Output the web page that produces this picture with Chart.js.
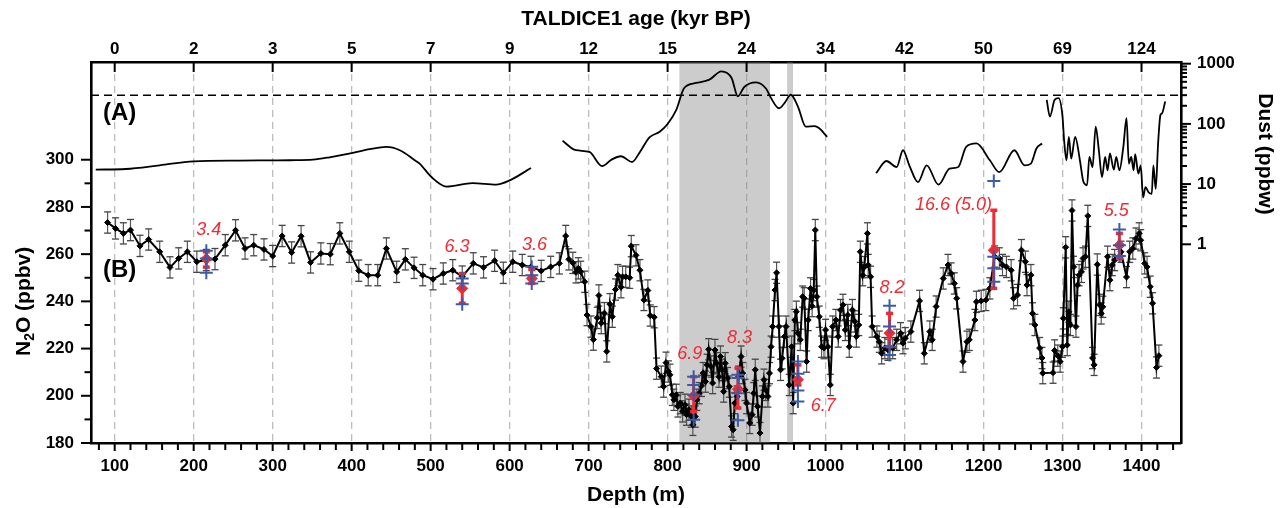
<!DOCTYPE html>
<html><head><meta charset="utf-8">
<script src="https://cdn.jsdelivr.net/npm/chart.js@4.4.1/dist/chart.umd.min.js"></script>
<style>html,body{margin:0;padding:0;background:#fff;}#wrap{width:1283px;height:508px;}</style>
</head><body><div id="wrap"><canvas id="c" width="1283" height="508"></canvas></div>
<script>
// ---------- DATA ----------
const n2oDepth = [
  91,101,111,120,132,143,157,170,181,192,
  204,216,227,240,253,265,276,289,300,312,
  324,336,348,361,373,385,397,409,421,433,
  444,457,468,479,490,503,516,528,540,554,
  567,581,592,604,616,627,640,652,663,671,
  675,680,684,687,690,695,698,703,706,711,
  713,716,720,723,727,730,734,737,741,743,
  747,752,754,760,765,770,775,778,783,786,
  792,795,798,801,803,806,808,811,813,816,
  819,822,824,827,830,832,835,837,840,843,
  845,848,850,852,855,857,860,862,865,867,
  869,871,873,876,878,881,883,885,888,890,
  893,895,898,900,904,907,909,911,914,917,
  920,922,924,927,929,931,933,936,938,941,
  943,945,948,950,954,957,959,961,963,965,
  968,971,973,976,978,981,983,985,987,989,
  992,995,998,1000,1003,1006,1009,1013,1016,1019,
  1022,1025,1028,1030,1034,1037,1039,1042,1044,1047,
  1049,1053,1054,1057,1059,1065,1068,1071,1075,1079,
  1085,1090,1095,1098,1101,1108,1119,1125,1132,1135,
  1140,1149,1155,1159,1163,1166,1174,1179,1182,1189,
  1191,1197,1203,1208,1214,1220,1224,1229,1235,1238,
  1243,1248,1253,1255,1260,1262,1265,1271,1274,1275,
  1288,1290,1294,1297,1300,1301,1304,1306,1308,1310,
  1312,1314,1317,1319,1321,1324,1326,1329,1332,1338,
  1340,1344,1347,1349,1351,1357,1360,1363,1366,1374,
  1381,1385,1389,1393,1397,1399,1404,1407,1411,1414,
  1419,1422
];
const n2oValue = [
  273.4,270.9,268.8,270.2,263.5,266.2,261.0,254.4,258.2,261.0,
  256.8,257.5,257.9,263.8,270.1,262.4,263.8,262.0,259.2,267.7,
  260.7,267.6,256.5,260.3,260.0,268.8,261.0,253.0,251.1,251.1,
  262.4,252.5,257.8,254.2,251.1,249.4,251.8,253.2,250.5,256.1,
  254.4,257.2,252.1,256.8,255.4,254.6,252.9,254.6,256.1,267.7,
  257.8,256.3,252.3,254.0,252.5,248.3,234.2,229.3,223.8,233.0,
  242.5,230.8,235.0,218.8,238.8,233.5,245.0,251.1,246.0,250.4,
  250.4,250.0,263.4,259.5,253.2,240.6,244.6,234.0,233.3,211.5,
  208.1,203.9,214.0,210.3,208.9,200.4,198.3,200.4,195.5,196.9,
  193.4,196.2,192.0,194.1,191.2,187.7,191.2,198.3,201.1,204.2,
  209.6,206.0,213.1,219.7,212.4,205.4,219.4,213.8,208.1,216.6,
  211.0,201.8,213.8,207.5,203.9,187.0,185.6,196.9,199.7,208.1,
  216.6,209.6,202.5,196.9,188.5,192.0,201.1,211.0,195.5,184.2,
  199.7,206.8,202.5,199.7,209.6,220.8,229.3,244.8,252.1,229.3,
  211.0,215.9,225.1,229.3,204.6,220.8,196.9,232.1,235.6,226.5,
  223.7,242.0,241.3,214.5,232.1,245.5,238.0,244.8,270.2,242.0,
  233.5,220.8,220.2,227.9,220.8,204.6,229.3,232.1,225.1,236.3,
  238.5,227.9,234.2,220.8,236.3,231.5,225.1,230.0,261.0,251.1,
  254.5,268.8,255.4,250.4,229.3,225.1,222.9,218.0,220.2,219.5,
  220.2,223.7,226.5,222.3,224.4,227.2,240.2,218.0,227.2,223.7,
  237.8,249.7,255.4,251.8,247.6,241.3,214.5,222.9,223.7,232.1,
  239.8,240.2,240.6,245.5,259.0,258.2,255.4,254.6,253.2,241.3,
  242.7,261.7,256.8,246.9,251.1,234.9,230.0,220.2,216.0,209.6,
  209.8,219.2,217.0,214.5,220.8,232.8,262.9,221.5,235.6,230.0,
  278.5,254.6,229.3,246.9,251.1,252.5,258.2,258.9,276.2,216.0,
  213.1,255.6,238.5,234.9,237.7,258.9,249.0,255.4,257.5,261.0,
  250.3,261.0,262.4,266.6,268.8,265.9,256.1,254.6,246.2,239.2,
  212.0,217.0
];
const n2oError = 4.5;

const dustDepth = [
  76,114,157,200,258,322,351,372,400,423,444,461,480,486,501,520,553,583,600,627,
  645,
  667,684,701,717,729,741,755,765,777,790,800,811,821,836,853,868,881,889,897,912,925,931,941,948,956,965,975,986,992,1002,
  1030,
  1064,1077,1090,1098,1106,1117,1128,1143,1157,1168,1178,1191,1208,1220,1239,1252,1260,1267,1274,
  1277,
  1280,1284,1290,1295,1300,1302,1305,1308,1311,1316,1322,1326,1328,1331,1334,1338,1342,1346,1350,1354,
  1357,1360,1365,1368,1372,1377,1381,1384,1387,1390,1392,1396,1399,1402,1405,1409,1413,1415,1418,1421,
  1424,1426,1430
];
const dustValue = [
  17.4,17.8,20.5,23.9,24.6,24.9,25.5,27.9,32.6,38,41.5,36.5,24.9,21.9,13.1,9.1,10.4,9.8,11.5,18.5,
  null,
  52.3,36.5,34.2,19.9,25.5,29,23.3,34.2,59.7,74,99.6,171,395,478,543,748,580,286,410,490,380,268,182,221,305,194,90,92,84.4,61,
  null,
  15.2,24.2,19.2,36.5,20.5,10.8,20.5,9.8,18,19.2,41.5,47.3,24.9,15.8,36.5,20.5,21.9,39,47.3,
  null,
  251,132,251,268,132,53.8,24.9,61,26.5,61,24.9,11.5,10.1,9.5,28.2,19.2,90,36.5,13.1,28.2,
  16.9,32.2,17.4,28.2,16.9,41.5,124,21.9,28.2,16.9,31.3,14.9,20.5,6,8.9,7.3,6.9,20.5,8.3,47.3,
  141,150,235
];
const dustThreshold = 300;

// comparison measurements (red: mean with range; blue: individual)
const cmpDepth = [216, 540, 628, 833, 889, 965, 1081, 1213, 1372];
const cmpMean  = [258.0, 245.5, 249.7, 200.0, 202.8, 206.8, 226.5, 261.7, 263.8];
const cmpLow   = [254.5, 239.2, 247.6, 193.4, 194.8, 204.6, 220.8, 245.5, 258.2];
const cmpHigh  = [261.0, 251.8, 253.5, 208.1, 211.7, 213.1, 234.9, 278.6, 268.8];
const cmpBlue  = [
  [261.4, 258.2, 252.1],
  [249.7, 247.6, 238.8],
  [254.7, 251.1, 247.6],
  [208.1, 204.6, 200.4, 189.9],
  [208.9, 207.5, 201.1, 189.6],
  [214.5, 209.3, 202.2, 197.6],
  [238.1, 229.3, 220.8, 217.3],
  [291.0, 258.9, 254.0, 248.3],
  [270.4, 263.8, 259.2]
];
const cmpLabel = ['3.4', '6.3', '3.6', '6.9', '8.3', '6.7', '8.2', '16.6 (5.0)', '5.5'];
const cmpLabelAt = [[219, 270.2], [533.5, 263.0], [631.6, 264.0], [828, 217.7], [891, 224.4], [997, 195.5], [1084, 245.7], [1162, 280.9], [1368, 278.2]];

const shadedRanges = [[814.7, 929.9], [951.3, 958.9]];

// ticks
const depthMajor = [100,200,300,400,500,600,700,800,900,1000,1100,1200,1300,1400];
const ageLabels = ['0','2','3','5','7','9','12','15','24','34','42','50','69','124'];
const depthMinor = [];
for (let d = 80; d <= 1440; d += 20) if (d % 100 !== 0) depthMinor.push(d);
const n2oMajor = [180, 200, 220, 240, 260, 280, 300];
const n2oMinor = [190, 210, 230, 250, 270, 290];
const dustMajor = [1, 10, 100, 1000];
const dustMinor = [2,3,4,5,6,7,8,9,20,30,40,50,60,70,80,90,200,300,400,500,600,700,800,900];

// ---------- CHART ----------
const FONT = "'Liberation Sans', Arial, Helvetica, sans-serif";
Chart.defaults.font.family = FONT;
Chart.defaults.color = '#000';
const RED = '#ee2b33';
const BLUE = '#3a5ca8';

const xMin = 70, xMax = 1450, n2oMin = 180, n2oMax = 341.4, dustMin = 5e-4, dustMax = 1067;

const n2oPts = n2oDepth.map((d, i) => ({x: d, y: n2oValue[i]}));
const errPts = n2oDepth.flatMap((d, i) => [{x: d, y: n2oValue[i] - n2oError}, {x: d, y: n2oValue[i] + n2oError}, {x: d, y: null}]);
const dustPts = dustDepth.map((d, i) => ({x: d, y: dustValue[i]}));
const redBarPts = cmpDepth.flatMap((d, i) => [{x: d, y: cmpLow[i]}, {x: d, y: cmpHigh[i]}, {x: d, y: null}]);
const redPts = cmpDepth.map((d, i) => ({x: d, y: cmpMean[i]}));
const bluePts = cmpDepth.flatMap((d, i) => cmpBlue[i].map(v => ({x: d, y: v})));

const shadeSets = shadedRanges.map(r => ({
  data: [{x: r[0], y: n2oMax}, {x: r[1], y: n2oMax}], yAxisID: 'y', fill: 'start',
  backgroundColor: 'rgba(128,128,128,0.4)', borderColor: 'transparent', borderWidth: 0, pointRadius: 0, order: 100
}));

const tickFont = {family: FONT, size: 17, weight: 'bold'};

const decor = {
  id: 'decor',
  afterDraw(chart) {
    const {ctx, chartArea: a, scales: s} = chart;
    ctx.save();
    ctx.strokeStyle = '#000';
    ctx.lineWidth = 2;
    const seg = (x1, y1, x2, y2) => { ctx.beginPath(); ctx.moveTo(x1, y1); ctx.lineTo(x2, y2); ctx.stroke(); };
    depthMajor.forEach(v => { const p = s.x.getPixelForValue(v); seg(p, a.bottom, p, a.bottom + 8); seg(p, a.top, p, a.top + 10); });
    depthMinor.forEach(v => { const p = s.x.getPixelForValue(v); seg(p, a.bottom, p, a.bottom + 7); });
    n2oMajor.forEach(v => { const p = s.y.getPixelForValue(v); seg(a.left - 10, p, a.left, p); });
    n2oMinor.forEach(v => { const p = s.y.getPixelForValue(v); seg(a.left - 6.5, p, a.left, p); });
    dustMajor.forEach(v => { const p = s.y2.getPixelForValue(v); seg(a.right, p, a.right + 10, p); });
    dustMinor.forEach(v => { const p = s.y2.getPixelForValue(v); seg(a.right, p, a.right + 6, p); });

    // panel labels
    ctx.fillStyle = '#000';
    ctx.font = 'bold 24px ' + FONT;
    ctx.textAlign = 'left'; ctx.textBaseline = 'middle';
    ctx.fillText('(A)', a.left + 12, 113);
    ctx.fillText('(B)', a.left + 12, 270);

    // N2O title with subscript
    const yc = (s.y.getPixelForValue(180) + s.y.getPixelForValue(300)) / 2;
    ctx.save();
    ctx.translate(22, yc);
    ctx.rotate(-Math.PI / 2);
    const big = 'bold 21px ' + FONT, small = 'bold 14px ' + FONT;
    ctx.font = big; const wN = ctx.measureText('N').width; const wRest = ctx.measureText('O (ppbv)').width;
    ctx.font = small; const w2 = ctx.measureText('2').width;
    let x0 = -(wN + w2 + wRest) / 2;
    ctx.textAlign = 'left'; ctx.textBaseline = 'alphabetic';
    ctx.font = big; ctx.fillText('N', x0, 7.5); x0 += wN;
    ctx.font = small; ctx.fillText('2', x0, 12); x0 += w2;
    ctx.font = big; ctx.fillText('O (ppbv)', x0, 7.5);
    ctx.restore();

    // Dust title
    const yd = (s.y2.getPixelForValue(1) + s.y2.getPixelForValue(1000)) / 2;
    ctx.save();
    ctx.translate(1265, yd);
    ctx.rotate(Math.PI / 2);
    ctx.font = 'bold 21px ' + FONT; ctx.textAlign = 'center'; ctx.textBaseline = 'middle';
    ctx.fillText('Dust (ppbw)', 0, 0);
    ctx.restore();

    // comparison labels
    ctx.fillStyle = RED;
    ctx.font = 'italic 18px ' + FONT;
    ctx.textAlign = 'center'; ctx.textBaseline = 'middle';
    cmpLabel.forEach((t, i) => ctx.fillText(t, s.x.getPixelForValue(cmpLabelAt[i][0]), s.y.getPixelForValue(cmpLabelAt[i][1])));
    ctx.restore();
  }
};

new Chart(document.getElementById('c'), {
  type: 'line',
  data: {
    datasets: [
      ...shadeSets,
      {data: dustPts, yAxisID: 'y2', borderColor: '#000', borderWidth: 1.8, pointRadius: 0, fill: false, cubicInterpolationMode: 'monotone', spanGaps: false, order: 50},
      {data: [{x: xMin, y: dustThreshold}, {x: xMax, y: dustThreshold}], yAxisID: 'y2', borderColor: '#000', borderWidth: 1.5, borderDash: [8, 5], pointRadius: 0, fill: false, order: 45},
      {data: errPts, yAxisID: 'y', borderColor: '#555', borderWidth: 1.2, pointStyle: 'line', pointRadius: 3.5, pointBorderColor: '#444', pointBorderWidth: 1.3, fill: false, spanGaps: false, order: 30},
      {data: n2oPts, yAxisID: 'y', borderColor: '#000', borderWidth: 2, pointStyle: 'rectRot', pointRadius: 3, pointBackgroundColor: '#000', pointBorderColor: '#000', pointBorderWidth: 1, fill: false, order: 20},
      {data: redBarPts, yAxisID: 'y', borderColor: RED, borderWidth: 3, pointStyle: 'line', pointRadius: 3.5, pointBorderColor: RED, pointBorderWidth: 3.5, fill: false, spanGaps: false, order: 10},
      {data: redPts, yAxisID: 'y', showLine: false, pointStyle: 'rectRot', pointRadius: 5.5, pointBackgroundColor: RED, pointBorderColor: RED, order: 5},
      {data: bluePts, yAxisID: 'y', showLine: false, pointStyle: 'cross', pointRadius: 6.5, pointBorderColor: BLUE, pointBorderWidth: 2, order: 0}
    ]
  },
  options: {
    responsive: false, animation: false, events: [],
    layout: {padding: 0},
    plugins: {legend: {display: false}, tooltip: {enabled: false}},
    scales: {
      x: {
        type: 'linear', position: 'bottom', min: xMin, max: xMax,
        afterBuildTicks: sc => { sc.ticks = depthMajor.map(v => ({value: v})); },
        afterFit: sc => { sc.height = 65; },
        ticks: {font: tickFont, padding: 13, maxRotation: 0, autoSkip: false, color: '#000', callback: v => String(v)},
        grid: {color: '#bdbdbd', lineWidth: 1.3, drawTicks: false},
        border: {color: '#000', width: 2.6, dash: [7, 5]},
        title: {display: true, text: 'Depth (m)', font: {family: FONT, size: 21, weight: 'bold'}, padding: {top: 0, bottom: 0}, color: '#000'}
      },
      xTop: {
        type: 'linear', position: 'top', min: xMin, max: xMax,
        afterBuildTicks: sc => { sc.ticks = depthMajor.map(v => ({value: v})); },
        afterFit: sc => { sc.height = 62; },
        ticks: {font: tickFont, padding: 2, maxRotation: 0, autoSkip: false, color: '#000', callback: (v, i) => ageLabels[i]},
        grid: {display: false, drawTicks: false},
        border: {color: '#000', width: 2.6},
        title: {display: true, text: 'TALDICE1 age (kyr BP)', font: {family: FONT, size: 21, weight: 'bold'}, padding: {top: 7, bottom: 0}, color: '#000'}
      },
      y: {
        type: 'linear', position: 'left', min: n2oMin, max: n2oMax,
        afterBuildTicks: sc => { sc.ticks = n2oMajor.map(v => ({value: v})); },
        afterFit: sc => { sc.width = 91; },
        ticks: {font: tickFont, padding: 17, color: '#000', callback: v => String(v)},
        grid: {display: false, drawTicks: false},
        border: {color: '#000', width: 2.6}
      },
      y2: {
        type: 'logarithmic', position: 'right', min: dustMin, max: dustMax,
        afterBuildTicks: sc => { sc.ticks = dustMajor.map(v => ({value: v})); },
        afterFit: sc => { sc.width = 102; },
        ticks: {font: tickFont, padding: 16, color: '#000', callback: v => String(v)},
        grid: {display: false, drawTicks: false},
        border: {color: '#000', width: 2.6}
      }
    }
  },
  plugins: [decor]
});
</script>
</body></html>
